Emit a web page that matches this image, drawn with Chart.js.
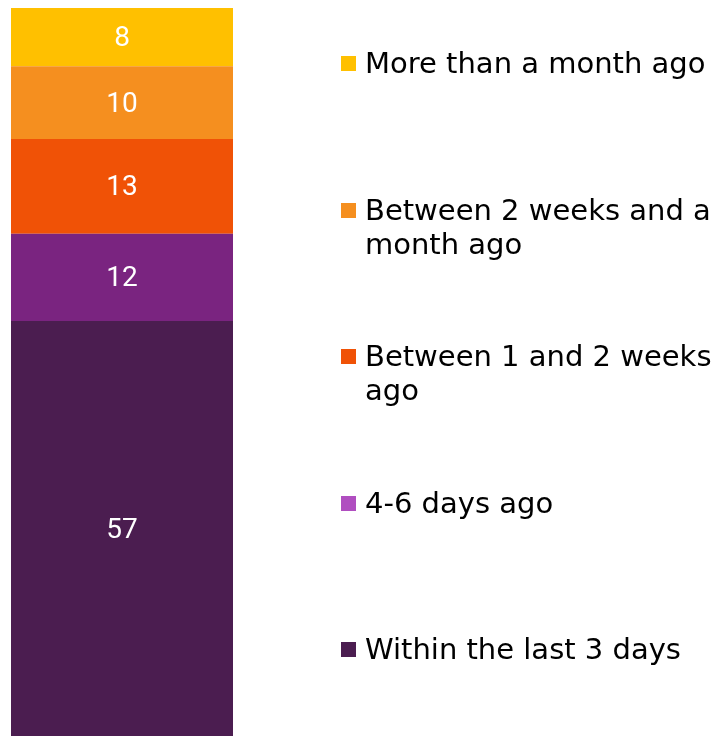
<!DOCTYPE html>
<html>
<head>
<meta charset="utf-8">
<script src="https://cdn.jsdelivr.net/npm/chart.js@4"></script>
<style>
  html, body { margin: 0; padding: 0; background: #fff; }
  #wrap { position: relative; width: 716px; height: 736px; }
  #chartBox { position: absolute; left: 0; top: 0; width: 244px; height: 736px; }
  #legend { position: absolute; left: 0; top: 0; width: 716px; height: 736px; pointer-events: none; }
  .item { position: absolute; left: 341px; font-family: "DejaVu Sans", Verdana, sans-serif; font-size: 29px; line-height: 34px; color: #000; white-space: nowrap; }
  .item .box { position: absolute; left: 0; top: 10px; width: 15px; height: 15px; }
  .item .txt { margin-left: 24px; }
</style>
</head>
<body>
<div id="wrap">
  <div id="chartBox"><canvas id="myChart"></canvas></div>
  <div id="legend"></div>
</div>
<script>
// bottom to top
var seriesNames = ['Within the last 3 days', '4-6 days ago', 'Between 1 and 2 weeks ago', 'Between 2 weeks and a month ago', 'More than a month ago'];
var seriesValues = [57, 12, 13, 10, 8];
var barColors = ['#4B1D50', '#7A2480', '#F05206', '#F58F1F', '#FFC000'];
var legendColors = ['#4B1D50', '#B04EC0', '#F05206', '#F58F1F', '#FFC000'];
// legend lines, top to bottom, as wrapped in the picture
var legendLines = [
    ['More than a month ago'],
    ['Between 2 weeks and a', 'month ago'],
    ['Between 1 and 2 weeks', 'ago'],
    ['4-6 days ago'],
    ['Within the last 3 days']
];

var datasets = seriesNames.map(function (name, i) {
    return {
        label: name,
        data: [seriesValues[i]],
        backgroundColor: barColors[i],
        borderWidth: 0,
        categoryPercentage: 1,
        barPercentage: 222 / 244
    };
});

// white value labels in the middle of each segment
var valueLabels = {
    id: 'valueLabels',
    afterDatasetsDraw: function (chart) {
        var ctx = chart.ctx;
        ctx.save();
        ctx.fillStyle = '#fff';
        ctx.font = '28px Roboto, "Open Sans", sans-serif';
        ctx.textAlign = 'center';
        ctx.textBaseline = 'middle';
        chart.data.datasets.forEach(function (ds, i) {
            chart.getDatasetMeta(i).data.forEach(function (bar, j) {
                var p = bar.getProps(['x', 'y', 'base'], true);
                ctx.fillText(ds.data[j], p.x, (p.y + p.base) / 2 + 2);
            });
        });
        ctx.restore();
    }
};

var ctx = document.getElementById('myChart').getContext('2d');
window.myChart = new Chart(ctx, {
    type: 'bar',
    data: { labels: [''], datasets: datasets },
    options: {
        responsive: true,
        maintainAspectRatio: false,
        animation: false,
        layout: { padding: { top: 8, left: 0, right: 0, bottom: 0 } },
        plugins: { legend: { display: false }, tooltip: { enabled: false } },
        scales: {
            x: { stacked: true, display: false },
            y: { stacked: true, display: false, min: 0, max: 100 }
        }
    },
    plugins: [valueLabels]
});

// legend on the right, evenly spaced
var legend = document.getElementById('legend');
legendLines.forEach(function (lines, i) {
    var item = document.createElement('div');
    item.className = 'item';
    item.style.top = (46 + i * 146.5) + 'px';
    var box = document.createElement('div');
    box.className = 'box';
    box.style.background = legendColors[legendColors.length - 1 - i];
    var txt = document.createElement('div');
    txt.className = 'txt';
    txt.innerHTML = lines.join('<br>');
    item.appendChild(box);
    item.appendChild(txt);
    legend.appendChild(item);
});
</script>
</body>
</html>
